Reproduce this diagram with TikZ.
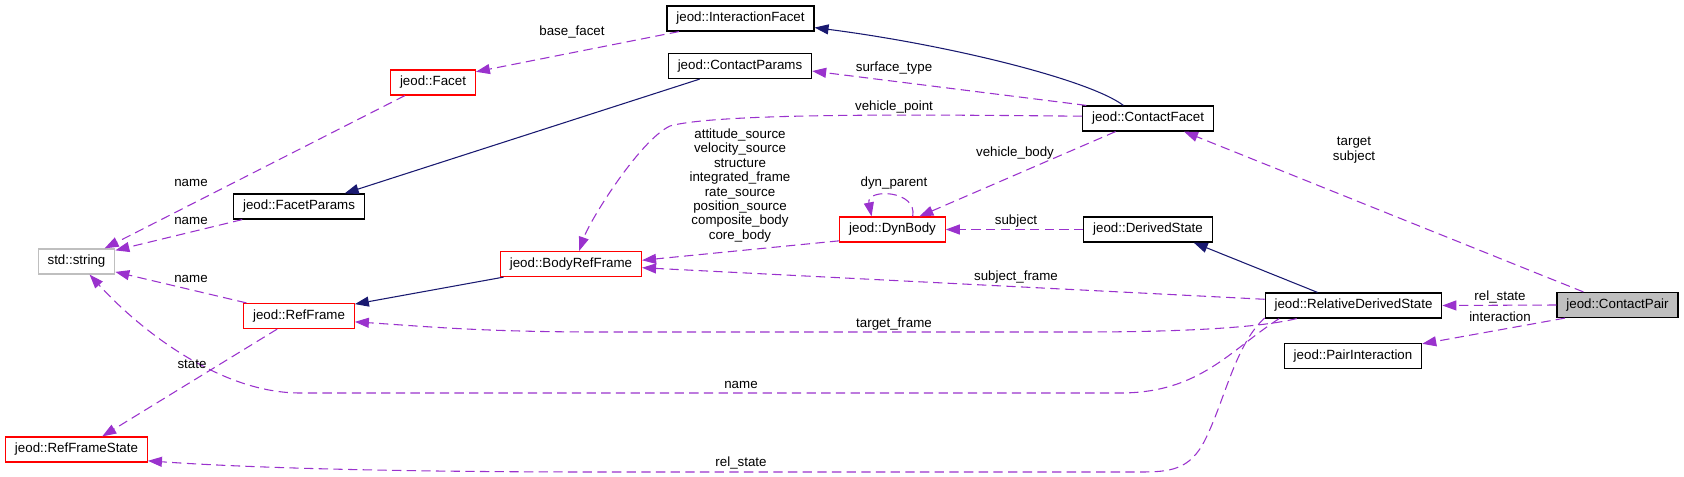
\documentclass[tikz,border=0pt]{standalone}
\usepackage{fontspec}
\setmainfont{Liberation Sans}
\usetikzlibrary{arrows.meta}
\definecolor{usecol}{HTML}{9A32CD}
\definecolor{inhcol}{HTML}{191970}
\definecolor{grey75}{HTML}{BFBFBF}
\tikzset{
  cls/.style={draw=black,line width=0.9pt,minimum height=18.75pt,inner xsep=7pt,inner ysep=0pt,font=\fontsize{10}{12}\selectfont},
  undoc/.style={cls,draw=red},
  extcls/.style={cls,draw=grey75},
  inh/.style={draw=inhcol,line width=0.8pt,-{Triangle[length=10.5pt,width=7.5pt]}},
  use/.style={draw=usecol,line width=0.8pt,dash pattern=on 7pt off 4pt,-{Triangle[length=10.5pt,width=7.5pt]}},
  lbl/.style={font=\fontsize{10}{10.8}\selectfont,inner sep=0pt,align=center}
}
\begin{document}
\begin{tikzpicture}[x=0.75pt,y=-0.75pt]
  \useasboundingbox (0,0) rectangle (1684,477);
  \node[cls] (IFacet) at (740.5,18.5) {jeod::InteractionFacet};
  \node[cls] (CParams) at (740,66) {jeod::ContactParams};
  \node[undoc] (Facet) at (433,82.5) {jeod::Facet};
  \node[cls] (CFacet) at (1148,118.5) {jeod::ContactFacet};
  \node[cls] (FParams) at (299,206.5) {jeod::FacetParams};
  \node[extcls] (String) at (76.5,261.5) {std::string};
  \node[undoc] (BRFrame) at (571,264) {jeod::BodyRefFrame};
  \node[undoc] (DynBody) at (892.5,229.5) {jeod::DynBody};
  \node[cls] (DState) at (1148,229.5) {jeod::DerivedState};
  \node[undoc] (RFrame) at (299,316) {jeod::RefFrame};
  \node[cls] (RDState) at (1353.5,305.5) {jeod::RelativeDerivedState};
  \node[cls,fill=grey75] (CPair) at (1617.5,305) {jeod::ContactPair};
  \node[cls] (PInter) at (1353,356) {jeod::PairInteraction};
  \node[undoc] (RFState) at (76.5,449.5) {jeod::RefFrameState};

  \draw[inh] (CFacet.152) .. controls (1090,80) and (950,45) .. (IFacet.-7);
  \draw[inh] (CParams.198) -- (FParams.16);
  \draw[inh] (BRFrame.191) -- (RFrame.12);
  \draw[inh] (RDState.160) -- (DState.-16);

  \draw[use] (IFacet.192) -- (Facet.14);
  \draw[use] (Facet.205) -- (String.25);
  \draw[use] (FParams.193) -- (String.16);
  \draw[use] (RFrame.166) -- (String.-15);
  \draw[use] (RDState.190) .. controls (1230,350) and (1200,393) .. (1120,393) -- (300,393)
    .. controls (220,393) and (140,330) .. (String.-45);
  \draw[use] (RDState.188) .. controls (1235,345) and (1225,400) .. (1205,440)
    .. controls (1190,470) and (1170,472) .. (1140,472) -- (600,472)
    .. controls (400,472) and (250,468) .. (RFState.-9);
  \draw[use] (RDState.193) .. controls (1250,330) and (1150,332) .. (1080,332) -- (600,332)
    .. controls (480,332) and (420,326) .. (RFrame.-6);
  \draw[use] (RDState.176) -- (BRFrame.-3);
  \draw[use] (DynBody.192) -- (BRFrame.3);
  \draw[use] (CFacet.178) .. controls (950,115) and (720,112) .. (670,126)
    .. controls (640,140) and (590,220) .. (BRFrame.58);
  \draw[use] (CFacet.168) -- (CParams.-4);
  \draw[use] (CFacet.202) -- (DynBody.26);
  \draw[use] (DynBody.33) .. controls (918,190) and (866,188) .. (DynBody.148);
  \draw[use] (DState.west) -- (DynBody.east);
  \draw[use] (CPair.west) -- (RDState.east);
  \draw[use] (CPair.194) -- (PInter.10);
  \draw[use] (CPair.159) -- (CFacet.-20);
  \draw[use] (RFrame.211) -- (RFState.27);

  \node[lbl] (lBase) at (572,32) {base\_facet};
  \node[lbl] (lName1) at (191,183) {name};
  \node[lbl] (lName2) at (191,221) {name};
  \node[lbl] (lName3) at (191,279) {name};
  \node[lbl] (lName4) at (741,385) {name};
  \node[lbl] (lState) at (192,364) {state};
  \node[lbl] (lSurf) at (894,68) {surface\_type};
  \node[lbl] (lVPoint) at (894,107) {vehicle\_point};
  \node[lbl] (lSources) at (740,185.5) {attitude\_source\\velocity\_source\\structure\\integrated\_frame\\rate\_source\\position\_source\\composite\_body\\core\_body};
  \node[lbl] (lParent) at (894,183) {dyn\_parent};
  \node[lbl] (lVBody) at (1015,153) {vehicle\_body};
  \node[lbl] (lSubj) at (1016,221) {subject};
  \node[lbl] (lSFrame) at (1016,277) {subject\_frame};
  \node[lbl] (lTFrame) at (894,324) {target\_frame};
  \node[lbl] (lRState1) at (741,463) {rel\_state};
  \node[lbl] (lTarget) at (1354,150) {target\\subject};
  \node[lbl] (lRState2) at (1500,297) {rel\_state};
  \node[lbl] (lInter) at (1500,317) {interaction};
\end{tikzpicture}
\end{document}
